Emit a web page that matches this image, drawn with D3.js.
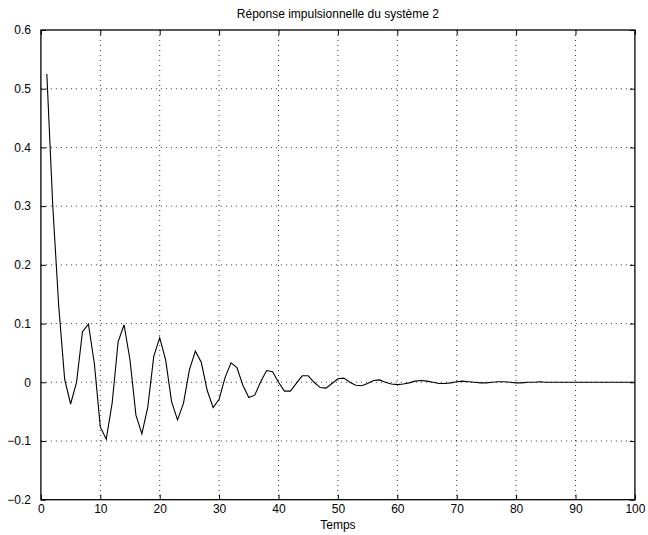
<!DOCTYPE html>
<html><head><meta charset="utf-8">
<script src="https://cdn.jsdelivr.net/npm/d3@7"></script>
<style>body{margin:0;background:#fff}svg{display:block}text{font-family:"Liberation Sans",Arial,sans-serif}</style>
</head><body>
<script>
const title = "Réponse impulsionnelle du système 2";
const xLabel = "Temps";
const xTicks = [0,10,20,30,40,50,60,70,80,90,100];
const yTicks = [-0.2,-0.1,0,0.1,0.2,0.3,0.4,0.5,0.6];
const times = d3.range(1,101);
const values = [
 0.525,0.30,0.13,0.005,-0.037,0.0,0.086,0.099,0.032,-0.076,
 -0.097,-0.035,0.069,0.098,0.038,-0.056,-0.088,-0.042,0.044,0.076,
 0.038,-0.033,-0.064,-0.036,0.021,0.053,0.034,-0.014,-0.043,-0.029,
 0.008,0.033,0.025,-0.005,-0.026,-0.022,0.001,0.020,0.018,0.0,
 -0.015,-0.015,-0.002,0.011,0.011,0.0,-0.009,-0.010,-0.002,0.006,
 0.007,0.0,-0.005,-0.006,-0.002,0.003,0.004,0.0,-0.003,-0.004,
 -0.003,-0.001,0.002,0.003,0.002,0.0,-0.002,-0.002,-0.001,0.001,
 0.002,0.001,0.0,-0.001,-0.001,0.0,0.001,0.001,0.0,-0.001,
 -0.001,0.0,0.0,0.001,0.0,0.0,0.0,0.0,0.0,0.0,
 0.0,0.0,0.0,0.0,0.0,0.0,0.0,0.0,0.0,0.0
];
const W=648,H=535, L=40.9, R=634.9, T=30, B=499.7;
const svg=d3.select("body").append("svg").attr("width",W).attr("height",H);
const x=d3.scaleLinear().domain([0,100]).range([L,R]);
const y=d3.scaleLinear().domain([-0.2,0.6]).range([B,T]);
const g=svg.append("g");
g.selectAll(".gx").data(xTicks.slice(1,-1)).enter().append("line")
 .attr("x1",d=>x(d)).attr("x2",d=>x(d)).attr("y1",T).attr("y2",B)
 .attr("stroke","#000").attr("stroke-width",0.8).attr("stroke-dasharray","1,4");
g.selectAll(".gy").data(yTicks.slice(1,-1)).enter().append("line")
 .attr("y1",d=>y(d)).attr("y2",d=>y(d)).attr("x1",L).attr("x2",R)
 .attr("stroke","#000").attr("stroke-width",0.8).attr("stroke-dasharray","1,4");
const fmt=d=>d===0?"0":d3.format(".1f")(d).replace("-","\u2212");
const ax=d3.axisBottom(x).tickValues(xTicks).tickSize(-5).tickPadding(5).tickFormat(d=>d);
const axT=d3.axisTop(x).tickValues(xTicks).tickSize(-5).tickFormat("");
const ay=d3.axisLeft(y).tickValues(yTicks).tickSize(-5).tickPadding(10).tickFormat(fmt);
const ayR=d3.axisRight(y).tickValues(yTicks).tickSize(-5).tickFormat("");
function style(s){s.select(".domain").remove();s.selectAll("line").attr("stroke","#000");
 s.selectAll("text").attr("font-size",12).attr("fill","#000").attr("font-family","Liberation Sans, Arial, sans-serif");}
svg.append("g").attr("transform",`translate(0,${B})`).call(ax).call(style);
svg.append("g").attr("transform",`translate(0,${T})`).call(axT).call(style);
svg.append("g").attr("transform",`translate(${L},0)`).call(ay).call(style);
svg.append("g").attr("transform",`translate(${R},0)`).call(ayR).call(style);
svg.append("rect").attr("x",L).attr("y",T).attr("width",R-L).attr("height",B-T)
 .attr("fill","none").attr("stroke","#000").attr("stroke-width",1.3);
const line=d3.line().x((d,i)=>x(times[i])).y(d=>y(d));
svg.append("path").datum(values).attr("d",line).attr("fill","none").attr("stroke","#000").attr("stroke-width",1.1);
svg.append("text").attr("x",(L+R)/2).attr("y",18).attr("text-anchor","middle").attr("font-size",12).text(title);
svg.append("text").attr("x",(L+R)/2).attr("y",529).attr("text-anchor","middle").attr("font-size",12).text(xLabel);
</script>
</body></html>
